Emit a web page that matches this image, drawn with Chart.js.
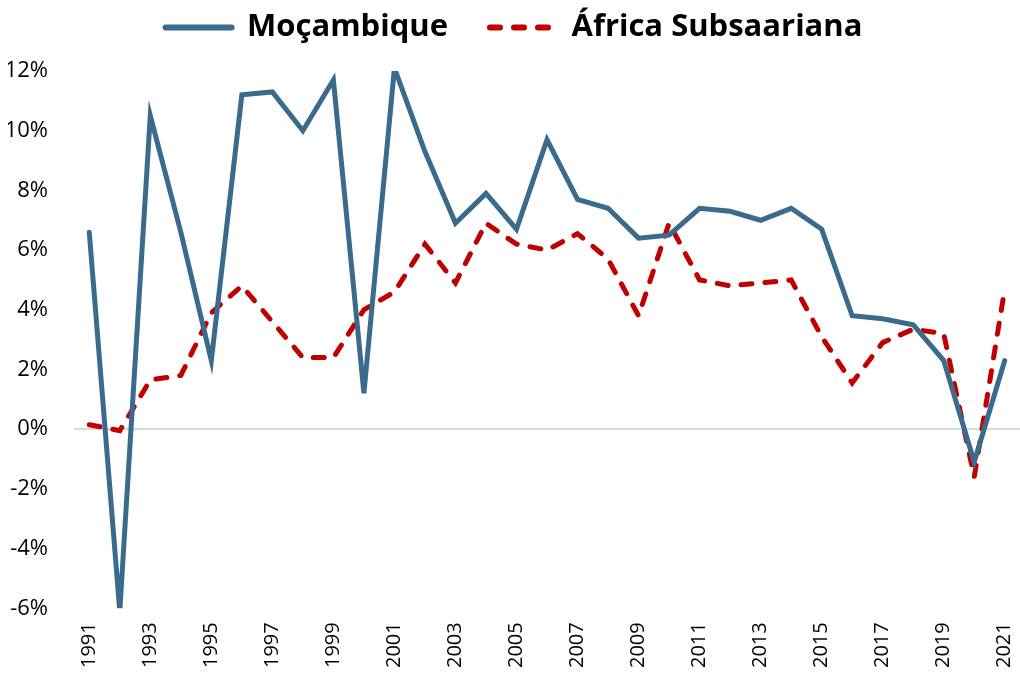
<!DOCTYPE html>
<html>
<head>
<meta charset="utf-8">
<script src="https://cdn.jsdelivr.net/npm/chart.js@4"></script>
<style>
  html, body { margin: 0; padding: 0; background: #fff; }
  #wrap { width: 1020px; height: 678px; }
</style>
</head>
<body>
<div id="wrap"><canvas id="growthChart"></canvas></div>
<script>
// Crescimento do PIB real (%)
const years = [];
for (let y = 1991; y <= 2021; y++) years.push(String(y));

const mozambique = [6.6, -6.1, 10.5, 6.6, 2.3, 11.2, 11.3, 10.0, 11.7, 1.2,
  12.1, 9.3, 6.9, 7.9, 6.7, 9.7, 7.7, 7.4, 6.4, 6.5,
  7.4, 7.3, 7.0, 7.4, 6.7, 3.8, 3.7, 3.5, 2.3, -1.1, 2.3];

const ssa = [0.15, -0.05, 1.65, 1.8, 3.9, 4.8, 3.6, 2.4, 2.4, 4.0,
  4.6, 6.2, 4.9, 6.9, 6.2, 6.0, 6.55, 5.7, 3.8, 6.9,
  5.0, 4.8, 4.9, 5.0, 3.1, 1.55, 2.9, 3.35, 3.2, -1.6, 4.7];

const yTicks = [-6, -4, -2, 0, 2, 4, 6, 8, 10, 12];

// wide gap between legend items, but keep the legend short
const legendGap = {
    id: 'legendGap',
    beforeInit(chart) {
        const lg = chart.legend;
        const fit = lg.fit;
        lg.fit = function() {
            fit.apply(lg, arguments);
            lg.height -= 12;
        };
        const draw = lg.draw;
        lg.draw = function() {
            const t = lg.top, b = lg.bottom;
            lg.top = t - 30;
            lg.bottom = b + 30;
            draw.apply(lg, arguments);
            lg.top = t;
            lg.bottom = b;
        };
    }
};

const ctx = document.getElementById('growthChart').getContext('2d');
const growthChart = new Chart(ctx, {
    type: 'line',
    data: {
        labels: years,
        datasets: [{
            label: 'Moçambique',
            data: mozambique,
            borderColor: '#3a6a8c',
            backgroundColor: '#3a6a8c',
            borderWidth: 5,
            borderCapStyle: 'round',
            pointRadius: 0,
            tension: 0
        }, {
            label: 'África Subsaariana',
            data: ssa,
            borderColor: '#c00000',
            backgroundColor: '#c00000',
            borderWidth: 5,
            borderDash: [11, 13],
            borderCapStyle: 'round',
            pointRadius: 0,
            tension: 0
        }]
    },
    options: {
        responsive: true,
        maintainAspectRatio: false,
        animation: false,
        layout: { padding: { left: 8, right: 0, top: 0, bottom: 4 } },
        plugins: {
            legend: {
                position: 'top',
                labels: {
                    usePointStyle: true,
                    pointStyleWidth: 66,
                    boxHeight: 6,
                    padding: 42,
                    color: '#000',
                    font: { family: 'Open Sans', size: 31, weight: 'bold' },
                    generateLabels: chart => chart.data.datasets.map((ds, i) => ({
                        text: ds.label,
                        fillStyle: ds.borderColor,
                        strokeStyle: ds.borderColor,
                        lineWidth: 6,
                        lineDash: i === 1 ? [10, 14] : [],
                        lineCap: 'round',
                        pointStyle: 'line',
                        fontColor: '#000',
                        hidden: false,
                        datasetIndex: i
                    }))
                }
            },
            tooltip: { enabled: false }
        },
        scales: {
            x: {
                offset: true,
                afterFit: function(axis) { axis.paddingRight = 0; axis.paddingLeft = 0; },
                grid: { display: false },
                border: { display: false },
                ticks: {
                    autoSkip: false,
                    minRotation: 90,
                    maxRotation: 90,
                    padding: 6,
                    color: '#000',
                    font: { family: 'Open Sans', size: 20 },
                    callback: function(v, i) { return i % 2 === 0 ? years[i] : ''; }
                }
            },
            y: {
                min: -6,
                max: 12,
                afterBuildTicks: function(axis) { axis.ticks = yTicks.map(v => ({ value: v })); },
                afterFit: function(axis) { axis.width = 66; },
                border: { display: false },
                grid: {
                    drawTicks: false,
                    lineWidth: 2,
                    color: c => c.tick && c.tick.value === 0 ? '#d9d9d9' : 'rgba(0,0,0,0)'
                },
                ticks: {
                    padding: 26,
                    color: '#000',
                    font: { family: 'Open Sans', size: 22 },
                    callback: v => v + '%'
                }
            }
        }
    },
    plugins: [legendGap]
});
</script>
</body>
</html>
